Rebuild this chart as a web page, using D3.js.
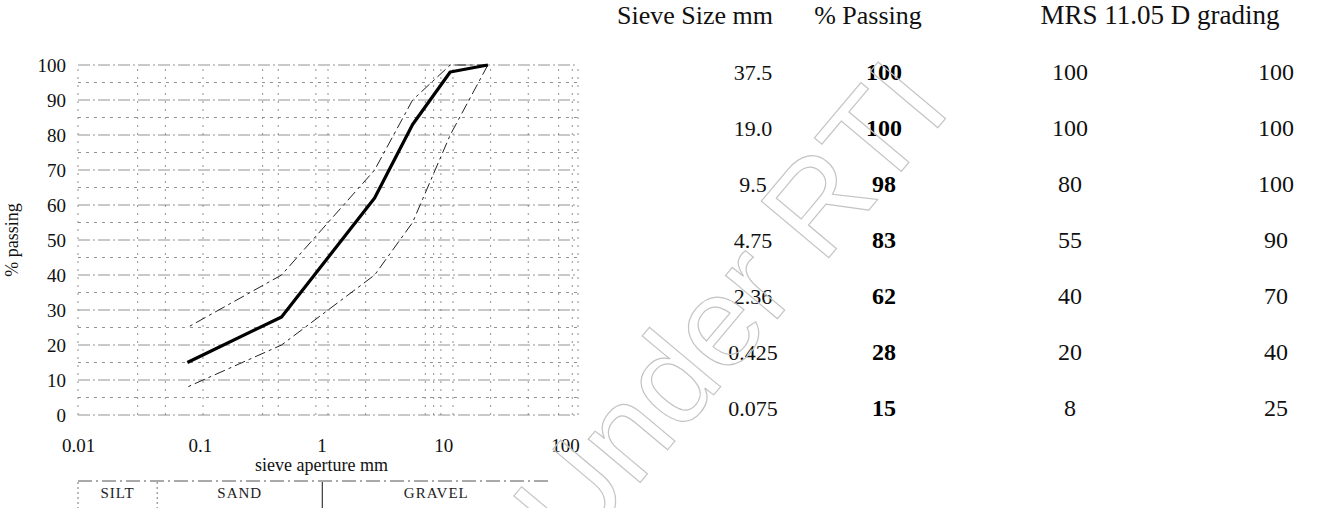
<!DOCTYPE html>
<html lang="en">
<meta charset="utf-8">
<style>
    html, body { margin: 0; padding: 0; background: #fff; }
    svg { display: block; font-family: "Liberation Serif", "DejaVu Serif", serif; }
    .grid line { stroke: #777; stroke-width: 0.8; }
</style>
<body>
<svg id="svg" width="1323" height="508"></svg>
<script src="https://cdn.jsdelivr.net/npm/d3@7"></script>
<script>
    // sieve sizes and grading values
    var sieves = [37.5, 19.0, 9.5, 4.75, 2.36, 0.425, 0.075];
    var sieveLabels = ["37.5", "19.0", "9.5", "4.75", "2.36", "0.425", "0.075"];
    var passing = [100, 100, 98, 83, 62, 28, 15];
    var lowerLimit = [100, 100, 80, 55, 40, 20, 8];
    var upperLimit = [100, 100, 100, 90, 70, 40, 25];
    var xTicks = [0.01, 0.1, 1, 10, 100];
    var yTicks = [0, 10, 20, 30, 40, 50, 60, 70, 80, 90, 100];
    var vGrid = [0.01, 0.03, 0.05, 0.1, 0.3, 0.4, 0.8, 1, 2, 6, 7, 8, 10, 20, 40, 70, 90, 100];
    var zones = [{name: "SILT", from: 0.01, to: 0.043}, {name: "SAND", from: 0.043, to: 0.9}, {name: "GRAVEL", from: 0.9, to: 60}];

    var svg = d3.select("svg"),
        margin = {top: 65, left: 78},
        width = 500, height = 350;

    var x = d3.scaleLog().domain([0.01, 100]).range([margin.left, margin.left + width]);
    var xLab = d3.scaleLog().domain([0.01, 100]).range([margin.left, margin.left + width - 13]);
    var y = d3.scaleLinear().domain([0, 100]).range([margin.top + height, margin.top]);

    // grid
    var grid = svg.append("g").attr("class", "grid");
    grid.selectAll(".h").data(d3.range(0, 101, 5)).enter().append("line")
        .attr("x1", x(0.01)).attr("x2", x(100))
        .attr("y1", d => y(d)).attr("y2", d => y(d))
        .attr("stroke-dasharray", (d, i) => i % 2 ? "3,5" : "12,3,2,3");
    grid.selectAll(".v").data(vGrid).enter().append("line")
        .attr("x1", d => x(d)).attr("x2", d => x(d))
        .attr("y1", y(0)).attr("y2", y(100))
        .attr("stroke", "#888").attr("stroke-width", 0.8)
        .attr("stroke-dasharray", "2,6");

    // axes (text only)
    var yAxis = svg.append("g")
        .attr("transform", "translate(" + (margin.left - 6) + ",0)")
        .call(d3.axisLeft(y).tickValues(yTicks).tickSize(0).tickPadding(6));
    yAxis.select(".domain").remove();
    yAxis.selectAll("text").attr("font-family", "Liberation Serif").attr("font-size", 19).attr("fill", "#111");

    var xAxis = svg.append("g")
        .attr("transform", "translate(0," + (y(0) + 20) + ")")
        .call(d3.axisBottom(xLab).tickValues(xTicks).tickFormat(d => String(d)).tickSize(0).tickPadding(4));
    xAxis.select(".domain").remove();
    xAxis.selectAll("text").attr("font-family", "Liberation Serif").attr("font-size", 19).attr("fill", "#111");

    svg.append("text")
        .attr("transform", "translate(18," + y(50) + ") rotate(-90)")
        .attr("text-anchor", "middle").attr("font-size", 18).attr("fill", "#111")
        .text("% passing");

    svg.append("text")
        .attr("x", xLab(1)).attr("y", 471)
        .attr("text-anchor", "middle").attr("font-size", 18).attr("fill", "#111")
        .text("sieve aperture mm");

    // soil classification band
    var band = svg.append("g");
    band.append("line").attr("x1", x(0.01)).attr("x2", x(60)).attr("y1", 481).attr("y2", 481)
        .attr("stroke", "#555").attr("stroke-dasharray", "14,4,2,4");
    band.selectAll(".div").data(zones).enter().append("line")
        .attr("x1", d => x(d.from)).attr("x2", d => x(d.from))
        .attr("y1", 482).attr("y2", 508)
        .attr("stroke", (d, i) => i == 2 ? "#111" : "#777")
        .attr("stroke-dasharray", (d, i) => i == 2 ? null : "2,3");
    band.selectAll("text").data(zones).enter().append("text")
        .attr("x", d => (x(d.from) + x(d.to)) / 2).attr("y", 498)
        .attr("text-anchor", "middle").attr("font-size", 15).attr("letter-spacing", 1)
        .attr("fill", "#222")
        .text(d => d.name);

    // curves
    var line = d3.line().x(d => x(d[0])).y(d => y(d[1]));
    var plotSieves = sieves.slice(1);
    svg.append("path").datum(plotSieves.map((s, i) => [s, upperLimit[i + 1]]))
        .attr("d", line).attr("fill", "none").attr("stroke", "#222").attr("stroke-width", 1)
        .attr("stroke-dasharray", "11,4,3,4");
    svg.append("path").datum(plotSieves.map((s, i) => [s, lowerLimit[i + 1]]))
        .attr("d", line).attr("fill", "none").attr("stroke", "#222").attr("stroke-width", 1)
        .attr("stroke-dasharray", "11,4,3,4");
    svg.append("path").datum(plotSieves.map((s, i) => [s, passing[i + 1]]))
        .attr("d", line).attr("fill", "none").attr("stroke", "#000").attr("stroke-width", 3.2)
        .attr("stroke-linejoin", "round");

    // table
    var cols = [753, 884, 1070, 1276];
    var headers = [{t: "Sieve Size mm", x: 695}, {t: "% Passing", x: 868}, {t: "MRS 11.05 D grading", x: 1160}];
    var rowY = d3.scaleLinear().domain([0, 6]).range([80, 416]);

    svg.append("g").selectAll("text").data(headers).enter().append("text")
        .attr("x", d => d.x).attr("y", 24).attr("text-anchor", "middle")
        .attr("font-size", (d, i) => i == 2 ? 27 : 26).attr("fill", "#111")
        .text(d => d.t);

    var rows = svg.append("g").selectAll("g").data(sieves).enter().append("g")
        .attr("transform", (d, i) => "translate(0," + rowY(i) + ")");
    rows.append("text").attr("x", cols[0]).attr("text-anchor", "middle").attr("font-size", 22)
        .attr("fill", "#111").text((d, i) => sieveLabels[i]);
    rows.append("text").attr("x", cols[1]).attr("text-anchor", "middle").attr("font-size", 24)
        .attr("font-weight", "bold").attr("fill", "#000").text((d, i) => passing[i]);
    rows.append("text").attr("x", cols[2]).attr("text-anchor", "middle").attr("font-size", 24)
        .attr("fill", "#111").text((d, i) => lowerLimit[i]);
    rows.append("text").attr("x", cols[3]).attr("text-anchor", "middle").attr("font-size", 24)
        .attr("fill", "#111").text((d, i) => upperLimit[i]);

    // watermark
    svg.append("text")
        .attr("transform", "translate(575,560) rotate(-50)")
        .attr("font-family", "Liberation Sans").attr("font-size", 128)
        .attr("fill", "none").attr("stroke", "#c4c4c4").attr("stroke-width", 1.2)
        .text("Under RTI");
</script>
</body>
</html>
